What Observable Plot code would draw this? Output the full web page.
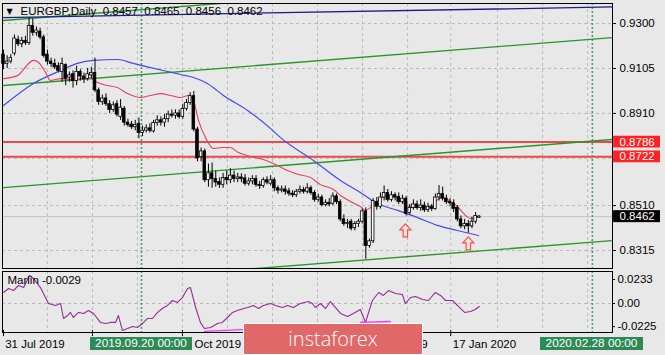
<!DOCTYPE html>
<html><head><meta charset="utf-8">
<script src="https://cdn.jsdelivr.net/npm/d3@7"></script>
<script src="https://cdn.jsdelivr.net/npm/@observablehq/plot@0.6"></script>
<style>
html,body{margin:0;padding:0;background:#e8e8e8;}
#chart{position:relative;width:665px;height:355px;overflow:hidden;background:#e8e8e8;font-family:"Liberation Sans",Arial,sans-serif;}
#chart svg{position:absolute;left:0;}
.tag{position:absolute;color:#fff;background:#2d8a55;font-size:11.8px;line-height:13px;height:13px;text-align:center;white-space:nowrap;}
#logo{position:absolute;left:243px;top:323px;width:180px;height:32px;box-sizing:border-box;border:1px solid #fff;background:#e06868;color:#fff;font-family:"Open Sans",sans-serif;font-weight:300;font-size:20px;line-height:30px;text-align:center;}
</style></head>
<body>
<div id="chart"></div>
<script>
// ---- Daily EURGBP candles (bar index 0 = 31 Jul 2019) ----
const O = [0.9165,0.9125,0.9135,0.9170,0.9230,0.9210,0.9225,0.9215,0.9290,0.9260,0.9265,0.9240,0.9165,0.9135,0.9125,0.9115,0.9090,0.9120,0.9065,0.9080,
0.9050,0.9090,0.9070,0.9060,0.9075,0.9085,0.9010,0.8960,0.8975,0.8950,0.8925,0.8950,0.8895,0.8930,0.8870,0.8862,0.8850,0.8865,0.8825,0.8835,
0.8845,0.8832,0.8868,0.8880,0.8870,0.8885,0.8905,0.8900,0.8910,0.8895,0.8930,0.8955,0.8985,0.8840,0.8720,0.8745,0.8620,0.8650,0.8625,0.8612,
0.8600,0.8630,0.8620,0.8640,0.8625,0.8632,0.8628,0.8605,0.8615,0.8625,0.8600,0.8595,0.8620,0.8605,0.8620,0.8585,0.8575,0.8580,0.8572,0.8562,
0.8555,0.8570,0.8578,0.8570,0.8585,0.8565,0.8535,0.8545,0.8512,0.8522,0.8518,0.8550,0.8525,0.8450,0.8430,0.8440,0.8412,0.8430,0.8440,0.8485,
0.8335,0.8355,0.8525,0.8505,0.8545,0.8565,0.8535,0.8555,0.8548,0.8525,0.8540,0.8478,0.8500,0.8515,0.8500,0.8510,0.8490,0.8505,0.8495,0.8545,
0.8560,0.8540,0.8525,0.8520,0.8500,0.8450,0.8420,0.8430,0.8420,0.8440,0.8457];
const H = [0.9185,0.9160,0.9165,0.9250,0.9245,0.9240,0.9245,0.9325,0.9320,0.9285,0.9280,0.9250,0.9185,0.9150,0.9145,0.9130,0.9150,0.9125,0.9090,0.9095,
0.9115,0.9100,0.9085,0.9105,0.9110,0.9150,0.9020,0.8990,0.8995,0.8965,0.8960,0.8965,0.8970,0.8940,0.8885,0.8875,0.8880,0.8890,0.8855,0.8860,
0.8865,0.8880,0.8900,0.8895,0.8905,0.8920,0.8925,0.8925,0.8925,0.8950,0.8970,0.9000,0.9005,0.8850,0.8760,0.8755,0.8690,0.8695,0.8660,0.8630,
0.8650,0.8660,0.8670,0.8660,0.8650,0.8648,0.8645,0.8630,0.8640,0.8640,0.8615,0.8630,0.8635,0.8640,0.8630,0.8595,0.8595,0.8595,0.8585,0.8575,
0.8580,0.8595,0.8590,0.8605,0.8595,0.8575,0.8560,0.8555,0.8535,0.8540,0.8565,0.8560,0.8535,0.8470,0.8450,0.8450,0.8440,0.8450,0.8495,0.8500,
0.8365,0.8540,0.8545,0.8565,0.8595,0.8580,0.8570,0.8565,0.8565,0.8555,0.8550,0.8515,0.8535,0.8530,0.8535,0.8525,0.8520,0.8515,0.8560,0.8597,
0.8590,0.8555,0.8540,0.8535,0.8510,0.8465,0.8450,0.8445,0.8460,0.8480,0.8465];
const L = [0.9100,0.9105,0.9125,0.9160,0.9200,0.9195,0.9205,0.9205,0.9245,0.9245,0.9230,0.9150,0.9120,0.9110,0.9100,0.9085,0.9045,0.9030,0.9045,0.9020,
0.9030,0.9050,0.9040,0.9050,0.9060,0.9000,0.8945,0.8945,0.8940,0.8910,0.8915,0.8895,0.8880,0.8855,0.8850,0.8840,0.8835,0.8800,0.8810,0.8825,
0.8825,0.8825,0.8855,0.8855,0.8850,0.8870,0.8890,0.8885,0.8885,0.8885,0.8920,0.8945,0.8830,0.8700,0.8700,0.8610,0.8590,0.8585,0.8590,0.8585,
0.8585,0.8600,0.8605,0.8610,0.8610,0.8610,0.8595,0.8595,0.8600,0.8590,0.8580,0.8585,0.8600,0.8595,0.8570,0.8560,0.8565,0.8555,0.8550,0.8545,
0.8545,0.8560,0.8560,0.8560,0.8555,0.8525,0.8525,0.8505,0.8505,0.8505,0.8510,0.8515,0.8440,0.8420,0.8410,0.8400,0.8400,0.8415,0.8430,0.8277,
0.8325,0.8345,0.8490,0.8495,0.8530,0.8525,0.8525,0.8530,0.8515,0.8515,0.8465,0.8470,0.8490,0.8490,0.8485,0.8480,0.8480,0.8485,0.8490,0.8530,
0.8530,0.8515,0.8505,0.8480,0.8440,0.8410,0.8405,0.8390,0.8410,0.8430,0.8456];
const C = [0.9125,0.9135,0.9150,0.9235,0.9210,0.9225,0.9215,0.9290,0.9260,0.9270,0.9240,0.9160,0.9135,0.9125,0.9110,0.9095,0.9125,0.9060,0.9075,0.9050,
0.9090,0.9070,0.9060,0.9080,0.9085,0.9010,0.8960,0.8975,0.8950,0.8925,0.8945,0.8905,0.8935,0.8870,0.8860,0.8850,0.8860,0.8825,0.8835,0.8845,
0.8835,0.8868,0.8880,0.8870,0.8885,0.8905,0.8900,0.8910,0.8895,0.8930,0.8955,0.8985,0.8840,0.8715,0.8745,0.8620,0.8650,0.8625,0.8610,0.8600,
0.8630,0.8620,0.8640,0.8625,0.8632,0.8625,0.8605,0.8615,0.8625,0.8600,0.8595,0.8620,0.8610,0.8620,0.8585,0.8575,0.8580,0.8570,0.8562,0.8555,
0.8570,0.8578,0.8570,0.8585,0.8565,0.8535,0.8545,0.8512,0.8522,0.8515,0.8550,0.8525,0.8450,0.8430,0.8435,0.8410,0.8430,0.8440,0.8485,0.8335,
0.8355,0.8530,0.8505,0.8545,0.8565,0.8535,0.8555,0.8545,0.8525,0.8540,0.8475,0.8500,0.8515,0.8500,0.8510,0.8490,0.8505,0.8495,0.8545,0.8560,
0.8540,0.8525,0.8520,0.8495,0.8450,0.8420,0.8430,0.8420,0.8440,0.8465,0.8462];

// ---- moving averages: [bar index, price] ----
const maFast = [[0,0.9061],[3.8,0.9074],[8.2,0.9140],[9.6,0.9131],[11.5,0.9088],[12.8,0.9053],[15.6,0.9061],[18.3,0.9057],[21.6,0.9061],[23.2,0.9066],
[25.7,0.9044],[28.4,0.9031],[31.1,0.9022],[33.9,0.8996],[37.4,0.8979],[40.2,0.8988],[42.9,0.8996],[45.6,0.8988],[48.4,0.8979],[50.5,0.8988],
[51.9,0.8966],[53.3,0.8879],[55.2,0.8805],[57.4,0.8758],[59.8,0.8762],[62.0,0.8762],[64.2,0.8740],[67.5,0.8723],[71.0,0.8710],[74.3,0.8688],
[77.6,0.8662],[80.6,0.8645],[83.9,0.8632],[86.6,0.8601],[90.2,0.8580],[92.1,0.8554],[94.8,0.8528],[97.5,0.8506],[98.9,0.8489],[100.3,0.8502],
[102.2,0.8528],[103.8,0.8549],[105.7,0.8554],[107.7,0.8541],[109.8,0.8515],[112.0,0.8502],[114.5,0.8502],[116.7,0.8502],[118.6,0.8536],[120.2,0.8545],
[122.1,0.8528],[124.0,0.8506],[125.7,0.8476],[127.6,0.8454],[129.0,0.8458],[130.0,0.8467]];
const maSlow = [[0,0.8944],[8.2,0.9040],[15.6,0.9096],[20.2,0.9127],[24.6,0.9140],[31.1,0.9144],[35.5,0.9127],[40.2,0.9109],[44.8,0.9092],[48.4,0.9079],
[51.9,0.9066],[55.7,0.9040],[60.1,0.8988],[66.7,0.8923],[73.0,0.8844],[75.7,0.8805],[84.7,0.8706],[92.1,0.8619],[97.5,0.8567],[102.2,0.8519],
[107.7,0.8489],[113.1,0.8458],[118.6,0.8424],[124.0,0.8402],[129.8,0.8380]];

// ---- drawn trend lines and channel: [bar index, price] ----
const navyLine = [[0,0.9326],[166.4,0.9372]];
const channelTop = [[0,0.9313],[166.4,0.9521]];
const channelUpper = [[0,0.9031],[166.4,0.9239]];
const channelMid = [[0,0.8588],[166.4,0.8797]];
const channelLow = [[60,0.8226],[166.4,0.8358]];
const levels = [0.8786, 0.8722];
const lastClose = 0.8462;
const signalArrows = [[109.8,0.8400],[127.0,0.8344]];

// ---- Marlin oscillator: [bar index, value] ----
const marlin = [[0,0.0107],[1.4,0.0146],[2.7,0.0126],[4.1,0.0175],[5.5,0.0155],[7.1,0.0272],[8.2,0.0243],[10.1,0.0155],[12.3,0],[14.2,-0.0019],
[15.6,0],[16.4,-0.0146],[17.5,-0.0117],[18.3,-0.0087],[19.1,-0.0136],[20.5,-0.0087],[21.9,-0.0097],[23.2,-0.0068],[24.6,-0.0097],[26.5,-0.0184],
[27.9,-0.0194],[29.2,-0.0184],[30.6,-0.0184],[31.4,-0.0117],[32.5,-0.0262],[33.9,-0.0243],[35.2,-0.0223],[36.6,-0.0233],[38,-0.0194],[39.3,-0.0146],
[40.7,-0.0146],[42.1,-0.0087],[43.4,-0.0049],[44.8,-0.0019],[46.2,0.0029],[47.5,0.0010],[48.9,0.0058],[50.3,0.0146],[51.1,0.0155],[52.5,-0.0039],
[53.8,-0.0184],[54.9,-0.0243],[56.6,-0.0233],[58.5,-0.0194],[59.8,-0.0184],[61.2,-0.0136],[62.6,-0.0087],[63.9,-0.0068],[65.6,-0.0049],[66.7,-0.0039],
[68.3,-0.0019],[69.7,-0.0049],[71,-0.0019],[73,0],[74.3,-0.0019],[76.2,-0.0039],[77.6,-0.0019],[79.2,-0.0039],[81.1,0],[83.3,0.0019],
[84.4,0],[85.2,-0.0039],[86.6,0],[88,-0.0049],[89.3,0.0019],[90.2,-0.0019],[92.1,-0.0097],[94,-0.0126],[95.6,-0.0097],[97.5,-0.0058],
[98.9,-0.0184],[100.8,0.0029],[102.5,0.0107],[103.8,0.0078],[105.2,0.0126],[107.1,0.0097],[109,0.0087],[109.8,0],[111.2,0.0058],[112.6,0.0068],
[114.5,0.0039],[116.1,0.0029],[118,0.0107],[119.4,0.0078],[120.8,0.0029],[122.7,0.0029],[124.3,-0.0029],[126,-0.0087],[127.6,-0.0078],[128.9,-0.0058],
[130,-0.0029]];
const marlinLines = [
  {id:1, pts:[[54.9,-0.0272],[66.5,-0.0252]]},
  {id:2, pts:[[97.5,-0.0184],[105.7,-0.0175]]}
];

// ---- axes ----
const priceTicks = [0.9300, 0.9105, 0.8910, 0.8715, 0.8510, 0.8315];
const priceLabels = [0.9300, 0.9105, 0.8910, 0.8510, 0.8315]; // 0.8715 sits under the level tags
const oscTicks = [0.0233, 0, -0.0225];
const gridBars = [12, 24.3, 36.6, 48.9, 61.2, 73.5, 85.8, 98.1, 110.4, 122.2, 135, 147.3, 159.6];
const crossBars = [37.7, 160.9];
const timeTickBars = [0, 24.3, 48.9, 73.5, 98.1, 122.2];
const timeLabels = [[0.2,"31 Jul 2019"],[51.9,"Oct 2019"],[113.9,"9"],[122.5,"17 Jan 2020"]];
const header = "EURGBP,Daily\u00a0\u00a00.8457\u00a0\u00a00.8465\u00a0\u00a00.8456\u00a0\u00a00.8462";
const oscLabel = "Marlin -0.0029";
const crossTags = ["2019.09.20 00:00", "2020.02.28 00:00"];

const bars = C.map((c, i) => ({i, o: O[i], h: H[i], l: L[i], c}));
const xDom = [-0.27, 166.4];
const pxPerBar = 3.66;
const FONT = "Liberation Sans, Arial, sans-serif";
const grid = {stroke: "#b9b9b9", strokeDasharray: "3,3"};
const P = d => d[0], V = d => d[1];

// hollow up-arrow symbol for the signal marks
const upArrow = {
  draw(ctx) {
    ctx.moveTo(0, -7); ctx.lineTo(5.5, -1); ctx.lineTo(2.2, -1); ctx.lineTo(2.2, 6);
    ctx.lineTo(-2.2, 6); ctx.lineTo(-2.2, -1); ctx.lineTo(-5.5, -1); ctx.closePath();
  }
};

const main = Plot.plot({
  width: 665, height: 270,
  marginTop: 3, marginBottom: 2, marginLeft: 2, marginRight: 53,
  style: {background: "transparent", color: "#000", fontFamily: FONT, fontSize: "11.5px"},
  x: {domain: xDom, axis: null},
  y: {domain: [0.8237, 0.9387], axis: null},
  marks: [
    Plot.ruleX(gridBars, grid),
    Plot.ruleY(priceTicks, grid),
    Plot.ruleY([lastClose], {stroke: "#c3c3c3"}),
    Plot.ruleY(levels, {stroke: "#ec4a4a", strokeWidth: 1.8}),
    Plot.ruleX(crossBars, {stroke: "#4a9d66", strokeWidth: 1.6, strokeDasharray: "2,2"}),
    Plot.line(channelUpper, {x: P, y: V, stroke: "#2a952a", strokeWidth: 1.4, clip: true}),
    Plot.line(channelMid, {x: P, y: V, stroke: "#2a952a", strokeWidth: 1.4, clip: true}),
    Plot.line(channelLow, {x: P, y: V, stroke: "#2a952a", strokeWidth: 1.4, clip: true}),
    Plot.line(channelTop, {x: P, y: V, stroke: "#2a952a", strokeWidth: 1.4, clip: true}),
    Plot.line(navyLine, {x: P, y: V, stroke: "#1c1c8e", strokeWidth: 1.3, clip: true}),
    Plot.line(maSlow, {x: P, y: V, stroke: "#4848ee", strokeWidth: 1.2, curve: "monotone-x"}),
    Plot.line(maFast, {x: P, y: V, stroke: "#e2405f", strokeWidth: 1.1, curve: "monotone-x"}),
    Plot.ruleX(bars, {x: "i", y1: "l", y2: "h", stroke: "#000", strokeWidth: 1}),
    Plot.rect(bars, {x1: d => d.i - 0.36, x2: d => d.i + 0.36, y1: "o", y2: "c",
      fill: d => d.c >= d.o ? "#ffffff" : "#000000", stroke: "#000", strokeWidth: 0.8}),
    Plot.dot(signalArrows, {x: P, y: V, symbol: upArrow, fill: "#ffe6e6", stroke: "#ff4a4a", strokeWidth: 1.2}),
    Plot.text(["\u25bc"], {frameAnchor: "top-left", dx: 4, dy: 5, fontSize: 8, fill: "#000", fontFamily: "DejaVu Sans"}),
    Plot.text([header], {frameAnchor: "top-left", dx: 18, dy: 3, textAnchor: "start", fill: "#000", fontSize: 11.5}),
    Plot.frame({stroke: "#000"}),
    Plot.ruleY(priceTicks, {x1: xDom[1], x2: xDom[1] + 4 / pxPerBar, stroke: "#000"}),
    Plot.text(priceLabels, {x: xDom[1], y: d => d, text: d => d.toFixed(4), dx: 7, textAnchor: "start", fill: "#000", fontSize: 11.5}),
    Plot.rect(levels, {x1: xDom[1] + 0.3, x2: xDom[1] + 48 / pxPerBar, y1: d => d - 0.0026, y2: d => d + 0.0025, fill: "#ff2222"}),
    Plot.text(levels, {x: xDom[1], y: d => d, text: d => d.toFixed(4), dx: 7, textAnchor: "start", fill: "#fff", fontSize: 11.5}),
    Plot.rect([lastClose], {x1: xDom[1] + 0.3, x2: xDom[1] + 48 / pxPerBar, y1: d => d - 0.0026, y2: d => d + 0.0026, fill: "#000"}),
    Plot.text([lastClose], {x: xDom[1], y: d => d, text: d => d.toFixed(4), dx: 7, textAnchor: "start", fill: "#fff", fontSize: 11.5})
  ]
});
main.style.top = "0px";

const oscBottom = -0.0282;
const ind = Plot.plot({
  width: 665, height: 85,
  marginTop: 1, marginBottom: 23, marginLeft: 2, marginRight: 53,
  style: {background: "transparent", color: "#000", fontFamily: FONT, fontSize: "11.5px", overflow: "visible"},
  x: {domain: xDom, axis: null},
  y: {domain: [oscBottom, 0.0311], axis: null},
  marks: [
    Plot.ruleX(gridBars, grid),
    Plot.ruleY([0], grid),
    Plot.ruleX(crossBars, {stroke: "#4a9d66", strokeWidth: 1.6, strokeDasharray: "2,2"}),
    Plot.line(marlin, {x: P, y: V, stroke: "#932c93", strokeWidth: 1.1}),
    ...marlinLines.map(s => Plot.line(s.pts, {x: P, y: V, stroke: "#ff30ff", strokeWidth: 1.3})),
    Plot.frame({stroke: "#000"}),
    Plot.ruleY(oscTicks, {x1: xDom[1], x2: xDom[1] + 3 / pxPerBar, stroke: "#000"}),
    Plot.text(oscTicks, {x: xDom[1], y: d => d, text: d => d === 0 ? "0.00" : d.toFixed(4), dx: 5, textAnchor: "start", fill: "#000", fontSize: 11.5}),
    Plot.text([oscLabel], {frameAnchor: "top-left", dx: 5, dy: 4, textAnchor: "start", fill: "#000", fontSize: 11.5}),
    Plot.ruleX(timeTickBars, {y1: oscBottom + 0.002, y2: oscBottom - 0.004, stroke: "#000"}),
    Plot.text(timeLabels, {x: P, y: () => oscBottom, text: V, dx: 1, dy: 12, textAnchor: "start", fill: "#000", fontSize: 11.5})
  ]
});
ind.style.top = "270px";

const root = document.getElementById("chart");
root.appendChild(main);
root.appendChild(ind);

function addTag(text, left, top, width) {
  const d = document.createElement("div");
  d.className = "tag";
  d.textContent = text;
  d.style.left = left + "px"; d.style.top = top + "px"; d.style.width = width + "px";
  root.appendChild(d);
}
// crosshair date tags centred on the crosshair bars
const xPix = v => 2 + (v - xDom[0]) * pxPerBar;
addTag(crossTags[0], Math.round(xPix(crossBars[0]) - 51), 337, 102);
addTag(crossTags[1], Math.round(xPix(crossBars[1]) - 52), 337, 103);

const logo = document.createElement("div");
logo.id = "logo";
logo.textContent = "instaforex";
root.appendChild(logo);
</script>
</body></html>
